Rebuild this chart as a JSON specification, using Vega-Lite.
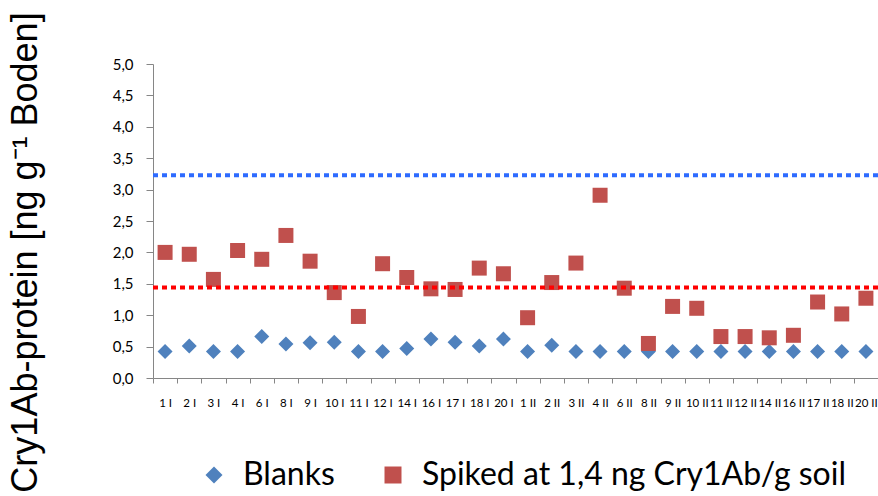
{
  "$schema": "https://vega.github.io/schema/vega-lite/v6.json",
  "autosize": {"type": "none"},
  "width": 725,
  "height": 314,
  "padding": {"left": 153, "top": 64, "right": 0, "bottom": 118},
  "background": "white",
  "config": {"view": {"stroke": null}},
  "datasets": {
    "samples": [
      {"sample": "1 I", "series": "Blanks", "value": 0.42},
      {"sample": "2 I", "series": "Blanks", "value": 0.51},
      {"sample": "3 I", "series": "Blanks", "value": 0.42},
      {"sample": "4 I", "series": "Blanks", "value": 0.42},
      {"sample": "6 I", "series": "Blanks", "value": 0.66},
      {"sample": "8 I", "series": "Blanks", "value": 0.54},
      {"sample": "9 I", "series": "Blanks", "value": 0.56},
      {"sample": "10 I", "series": "Blanks", "value": 0.57},
      {"sample": "11 I", "series": "Blanks", "value": 0.42},
      {"sample": "12 I", "series": "Blanks", "value": 0.42},
      {"sample": "14 I", "series": "Blanks", "value": 0.47},
      {"sample": "16 I", "series": "Blanks", "value": 0.62},
      {"sample": "17 I", "series": "Blanks", "value": 0.57},
      {"sample": "18 I", "series": "Blanks", "value": 0.51},
      {"sample": "20 I", "series": "Blanks", "value": 0.62},
      {"sample": "1 II", "series": "Blanks", "value": 0.42},
      {"sample": "2 II", "series": "Blanks", "value": 0.52},
      {"sample": "3 II", "series": "Blanks", "value": 0.42},
      {"sample": "4 II", "series": "Blanks", "value": 0.42},
      {"sample": "6 II", "series": "Blanks", "value": 0.42},
      {"sample": "8 II", "series": "Blanks", "value": 0.42},
      {"sample": "9 II", "series": "Blanks", "value": 0.42},
      {"sample": "10 II", "series": "Blanks", "value": 0.42},
      {"sample": "11 II", "series": "Blanks", "value": 0.42},
      {"sample": "12 II", "series": "Blanks", "value": 0.42},
      {"sample": "14 II", "series": "Blanks", "value": 0.42},
      {"sample": "16 II", "series": "Blanks", "value": 0.42},
      {"sample": "17 II", "series": "Blanks", "value": 0.42},
      {"sample": "18 II", "series": "Blanks", "value": 0.42},
      {"sample": "20 II", "series": "Blanks", "value": 0.42},
      {"sample": "1 I", "series": "Spiked at 1,4 ng Cry1Ab/g soil", "value": 2.0},
      {"sample": "2 I", "series": "Spiked at 1,4 ng Cry1Ab/g soil", "value": 1.97},
      {"sample": "3 I", "series": "Spiked at 1,4 ng Cry1Ab/g soil", "value": 1.57},
      {"sample": "4 I", "series": "Spiked at 1,4 ng Cry1Ab/g soil", "value": 2.03},
      {"sample": "6 I", "series": "Spiked at 1,4 ng Cry1Ab/g soil", "value": 1.89},
      {"sample": "8 I", "series": "Spiked at 1,4 ng Cry1Ab/g soil", "value": 2.27},
      {"sample": "9 I", "series": "Spiked at 1,4 ng Cry1Ab/g soil", "value": 1.86},
      {"sample": "10 I", "series": "Spiked at 1,4 ng Cry1Ab/g soil", "value": 1.36},
      {"sample": "11 I", "series": "Spiked at 1,4 ng Cry1Ab/g soil", "value": 0.98},
      {"sample": "12 I", "series": "Spiked at 1,4 ng Cry1Ab/g soil", "value": 1.82},
      {"sample": "14 I", "series": "Spiked at 1,4 ng Cry1Ab/g soil", "value": 1.6},
      {"sample": "16 I", "series": "Spiked at 1,4 ng Cry1Ab/g soil", "value": 1.42},
      {"sample": "17 I", "series": "Spiked at 1,4 ng Cry1Ab/g soil", "value": 1.41},
      {"sample": "18 I", "series": "Spiked at 1,4 ng Cry1Ab/g soil", "value": 1.75},
      {"sample": "20 I", "series": "Spiked at 1,4 ng Cry1Ab/g soil", "value": 1.66},
      {"sample": "1 II", "series": "Spiked at 1,4 ng Cry1Ab/g soil", "value": 0.96},
      {"sample": "2 II", "series": "Spiked at 1,4 ng Cry1Ab/g soil", "value": 1.52},
      {"sample": "3 II", "series": "Spiked at 1,4 ng Cry1Ab/g soil", "value": 1.83},
      {"sample": "4 II", "series": "Spiked at 1,4 ng Cry1Ab/g soil", "value": 2.91},
      {"sample": "6 II", "series": "Spiked at 1,4 ng Cry1Ab/g soil", "value": 1.43},
      {"sample": "8 II", "series": "Spiked at 1,4 ng Cry1Ab/g soil", "value": 0.55},
      {"sample": "9 II", "series": "Spiked at 1,4 ng Cry1Ab/g soil", "value": 1.14},
      {"sample": "10 II", "series": "Spiked at 1,4 ng Cry1Ab/g soil", "value": 1.11},
      {"sample": "11 II", "series": "Spiked at 1,4 ng Cry1Ab/g soil", "value": 0.66},
      {"sample": "12 II", "series": "Spiked at 1,4 ng Cry1Ab/g soil", "value": 0.66},
      {"sample": "14 II", "series": "Spiked at 1,4 ng Cry1Ab/g soil", "value": 0.64},
      {"sample": "16 II", "series": "Spiked at 1,4 ng Cry1Ab/g soil", "value": 0.68},
      {"sample": "17 II", "series": "Spiked at 1,4 ng Cry1Ab/g soil", "value": 1.21},
      {"sample": "18 II", "series": "Spiked at 1,4 ng Cry1Ab/g soil", "value": 1.02},
      {"sample": "20 II", "series": "Spiked at 1,4 ng Cry1Ab/g soil", "value": 1.27}
    ],
    "thresholds": [
      {"limit": "upper", "value": 3.23},
      {"limit": "lower", "value": 1.44}
    ]
  },
  "encoding": {
    "y": {
      "field": "value", "type": "quantitative",
      "scale": {"domain": [0, 5], "nice": false},
      "axis": {
        "title": "Cry1Ab-protein [ng g⁻¹ Boden]",
        "titleFont": "Liberation Sans",
        "titleFontSize": 36,
        "titleFontWeight": "normal",
        "titleColor": "#000000",
        "titleAngle": -90,
        "titleX": -117,
        "titleY": 188,
        "titleAlign": "center",
        "titleBaseline": "alphabetic",
        "values": [0, 0.5, 1, 1.5, 2, 2.5, 3, 3.5, 4, 4.5, 5],
        "labelOverlap": false,
        "grid": false,
        "domainColor": "#868686",
        "tickColor": "#868686",
        "tickSize": 7,
        "labelPadding": 13,
        "labelFont": "Lato",
        "labelFontSize": 15,
        "labelColor": "#000000",
        "labelExpr": "replace(format(datum.value, '.1f'), '.', ',')"
      }
    }
  },
  "layer": [
    {
      "data": {"name": "samples"},
      "mark": {"type": "point", "filled": true, "opacity": 1, "size": 225},
      "encoding": {
        "x": {
          "field": "sample", "type": "ordinal", "sort": null,
          "scale": {"type": "band", "paddingInner": 0, "paddingOuter": 0},
          "axis": {
            "title": null,
            "labelAngle": 0,
            "domainColor": "#868686",
            "tickColor": "#868686",
            "tickSize": 5,
            "tickBand": "extent",
            "labelPadding": 14,
            "labelFont": "Lato",
            "labelFontSize": 11.5,
            "labelColor": "#000000"
          }
        },
        "color": {
          "field": "series", "type": "nominal",
          "scale": {"domain": ["Blanks", "Spiked at 1,4 ng Cry1Ab/g soil"], "range": ["#4F81BD", "#C0504D"]},
          "legend": {
            "title": null, "orient": "none", "direction": "horizontal",
            "legendX": 45, "legendY": 395,
            "labelFont": "Lato", "labelFontSize": 32, "labelColor": "#000000", "labelLimit": 600,
            "symbolSize": 289, "columnPadding": 42, "labelOffset": 13
          }
        },
        "shape": {
          "field": "series", "type": "nominal",
          "scale": {"domain": ["Blanks", "Spiked at 1,4 ng Cry1Ab/g soil"], "range": ["diamond", "square"]},
          "legend": {
            "title": null, "orient": "none", "direction": "horizontal",
            "legendX": 45, "legendY": 395,
            "labelFont": "Lato", "labelFontSize": 32, "labelColor": "#000000", "labelLimit": 600,
            "symbolSize": 289, "columnPadding": 42, "labelOffset": 13
          }
        }
      }
    },
    {
      "data": {"name": "thresholds"},
      "mark": {"type": "rule", "strokeWidth": 4, "strokeDash": [5, 4]},
      "encoding": {
        "stroke": {
          "field": "limit", "type": "nominal", "legend": null,
          "scale": {"domain": ["upper", "lower"], "range": ["#2E6BFF", "#FF0000"]}
        }
      }
    }
  ]
}
